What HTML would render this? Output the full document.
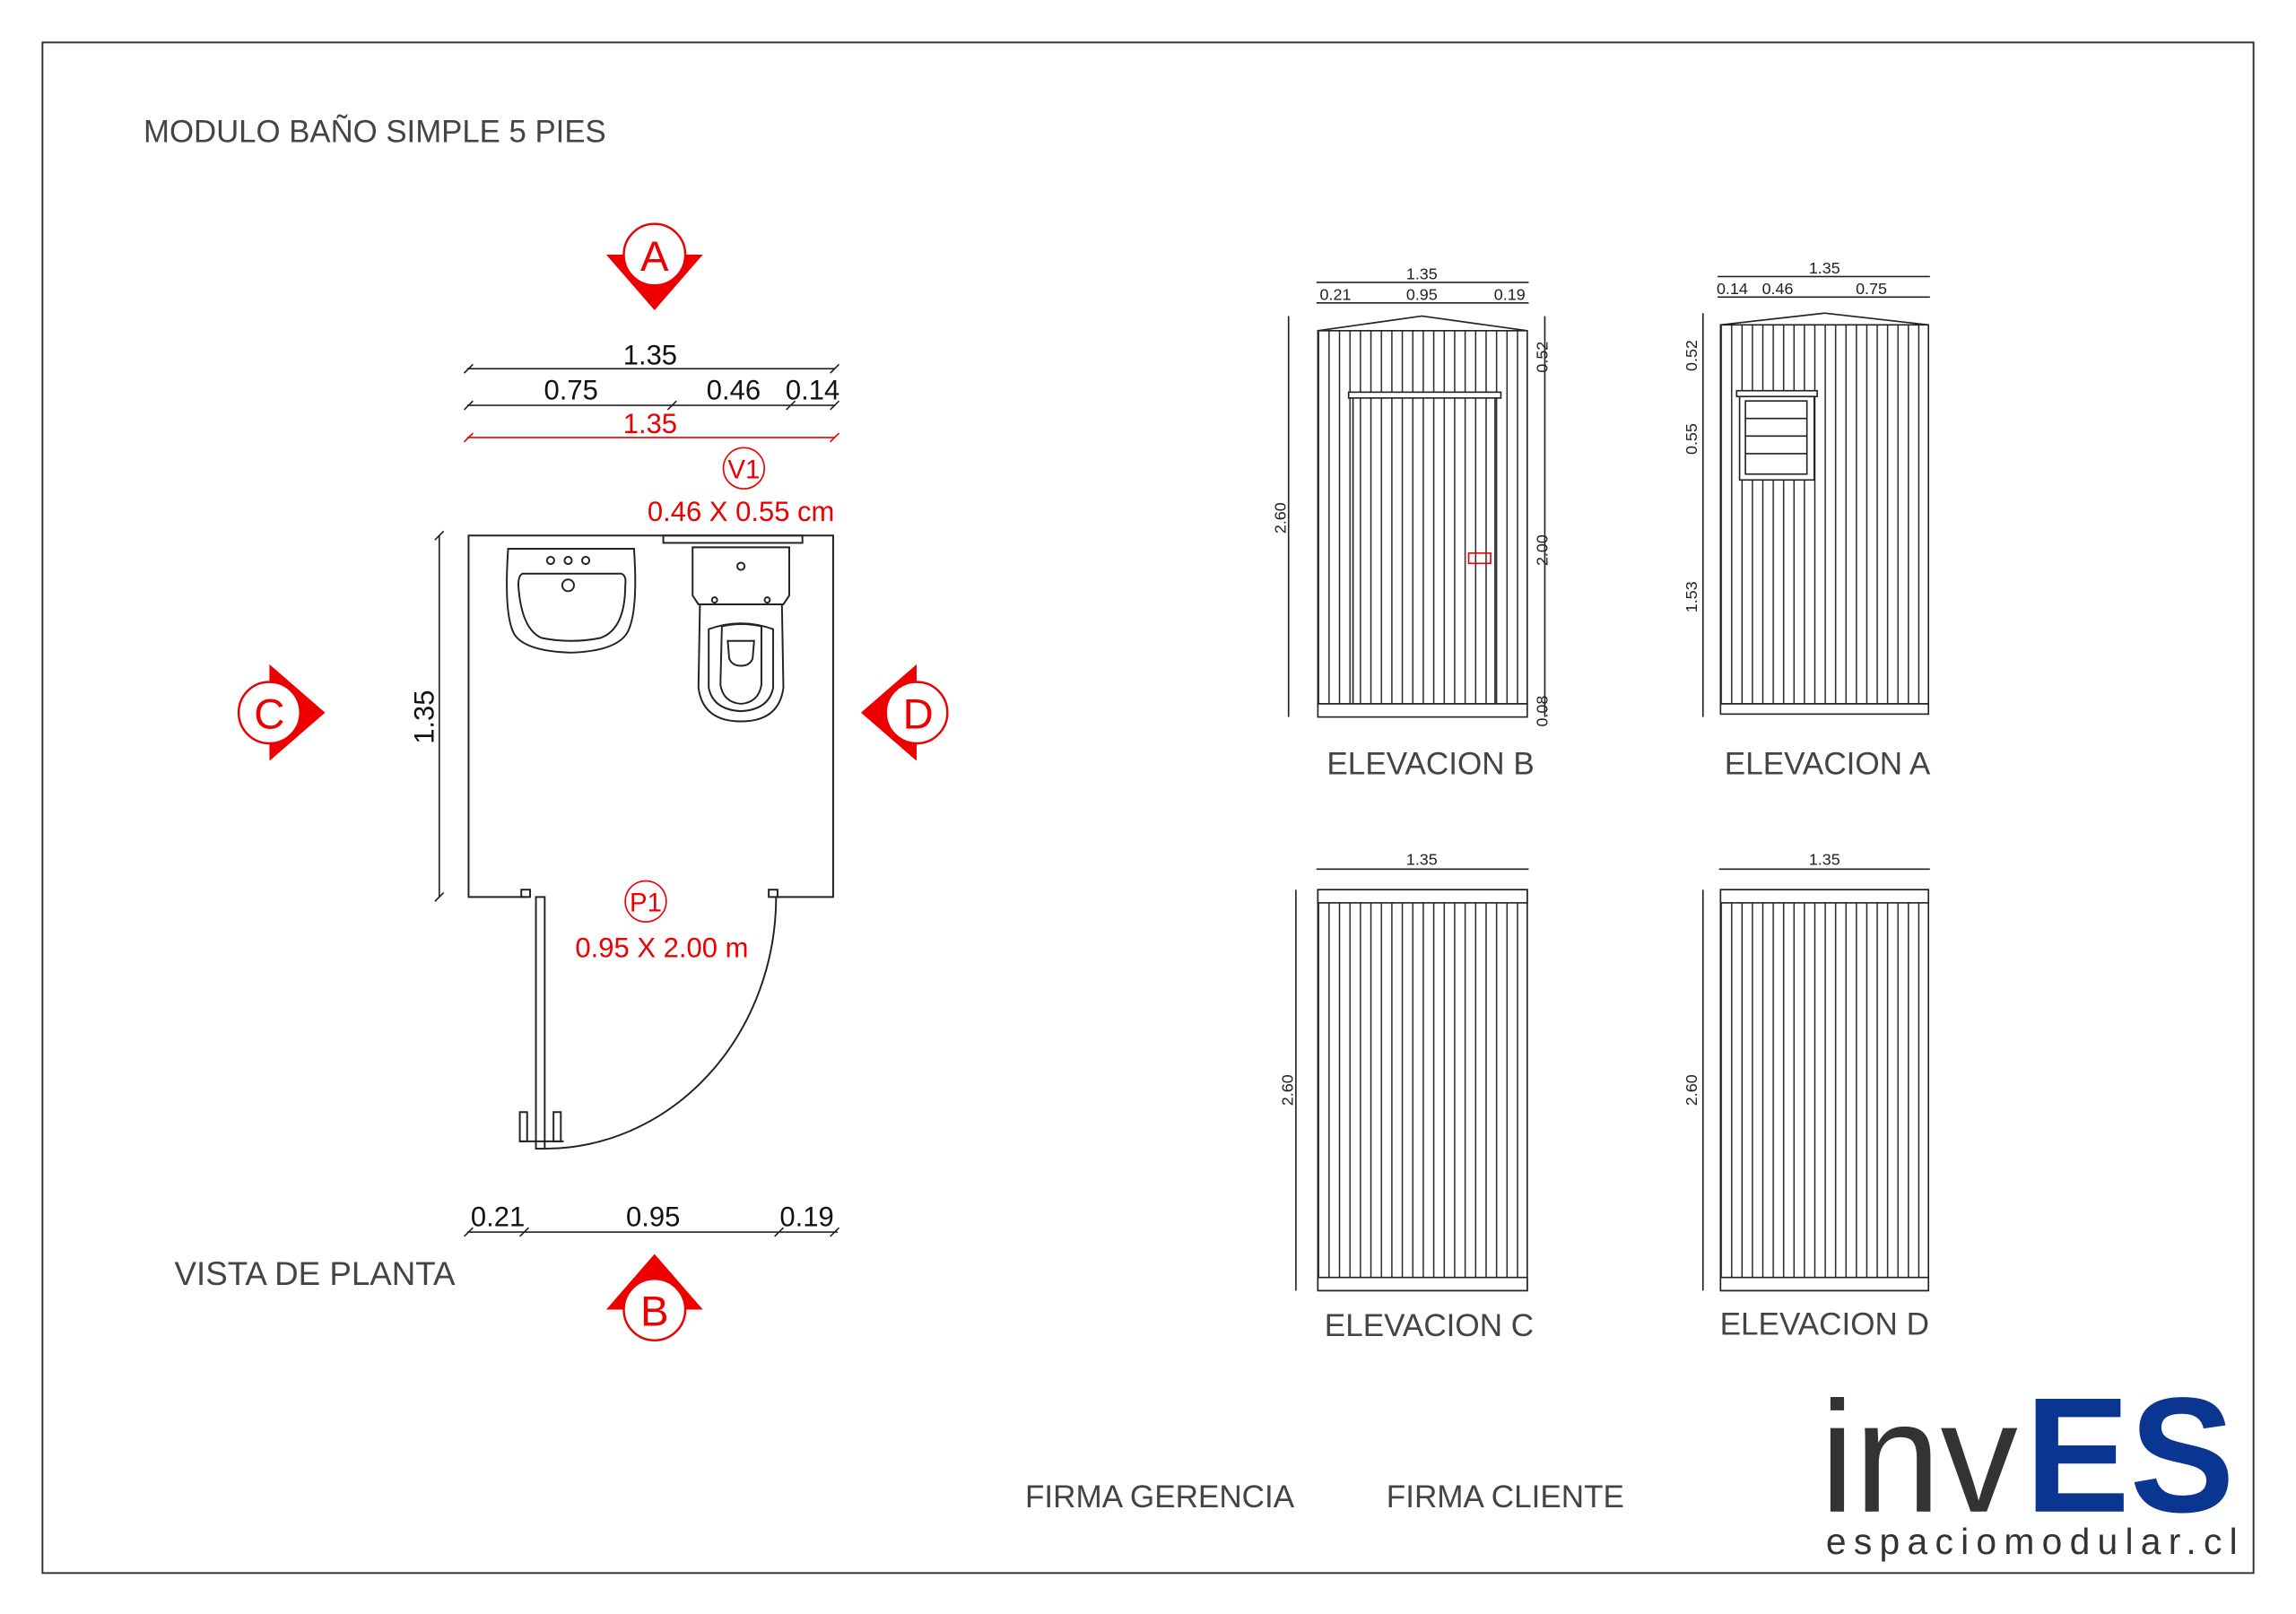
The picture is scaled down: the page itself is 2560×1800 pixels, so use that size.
<!DOCTYPE html>
<html><head><meta charset="utf-8"><style>html,body{margin:0;padding:0;background:#fff}svg{display:block}</style></head>
<body>
<svg width="2560" height="1800" viewBox="0 0 1568 1103" preserveAspectRatio="none" xmlns="http://www.w3.org/2000/svg" font-family="Liberation Sans, sans-serif">
<defs>
<pattern id="vl" patternUnits="userSpaceOnUse" width="7.15" height="10" x="900" y="0"><line x1="0.5" y1="0" x2="0.5" y2="10" stroke="#222" stroke-width="0.9"/></pattern>
<pattern id="vl2" patternUnits="userSpaceOnUse" width="7.1" height="10" x="1175" y="0"><line x1="0.5" y1="0" x2="0.5" y2="10" stroke="#222" stroke-width="0.9"/></pattern>
</defs>
<rect width="1568" height="1103" fill="#fff"/>
<rect x="29" y="29" width="1510" height="1046" fill="none" stroke="#333" stroke-width="1.2"/>
<text x="98" y="97" font-size="21.3" fill="#444">MODULO BAÑO SIMPLE 5 PIES</text>

<g stroke="#222" stroke-width="1" fill="none">
<line x1="319" y1="252" x2="570" y2="252"/>
<line x1="319" y1="277" x2="570" y2="277"/>
<path d="M317,255 L323,249 M567,255 L573,249 M317,280 L323,274 M456,280 L462,274 M537,280 L543,274 M567,280 L573,274"/>
<line x1="300" y1="366" x2="300" y2="613"/>
<path d="M297,369 L303,363 M297,616 L303,610"/>
<line x1="319" y1="842" x2="572" y2="842"/>
<path d="M317,845 L323,839 M355,845 L361,839 M529,845 L535,839 M567,845 L573,839"/>
</g>
<g stroke="#e00" fill="none" stroke-width="1"><line x1="319" y1="299" x2="570" y2="299"/><path d="M317,302 L323,296 M567,302 L573,296"/></g>
<g font-size="19" fill="#111" text-anchor="middle">
<text x="444" y="249">1.35</text><text x="390" y="273">0.75</text><text x="501" y="273">0.46</text><text x="555" y="273">0.14</text>
<text x="340" y="838">0.21</text><text x="446" y="838">0.95</text><text x="551" y="838">0.19</text>
<text transform="translate(296,490) rotate(-90)">1.35</text>
</g>
<text x="444" y="296" font-size="19" fill="#e00" text-anchor="middle">1.35</text>
<circle cx="508" cy="320" r="14" fill="none" stroke="#e00"/>
<text x="508" y="327" font-size="18" fill="#e00" text-anchor="middle">V1</text>
<text x="506" y="356" font-size="19" fill="#e00" text-anchor="middle">0.46 X 0.55 cm</text>
<circle cx="441" cy="616" r="14" fill="none" stroke="#e00"/>
<text x="441" y="623" font-size="18" fill="#e00" text-anchor="middle">P1</text>
<text x="452" y="654" font-size="19" fill="#e00" text-anchor="middle">0.95 X 2.00 m</text>

<g stroke="#222" stroke-width="1.2" fill="none">
<path d="M360,613 L320,613 L320,366 L569,366 L569,613 L530,613"/>
<rect x="453" y="366" width="95" height="5"/>
<rect x="356" y="608" width="6" height="5"/><rect x="525" y="608" width="6" height="5"/>
<rect x="366" y="613" width="6" height="172"/>
<path d="M530,613 A158,172 0 0 1 372,785"/>
<rect x="355" y="760" width="5" height="20"/><rect x="378" y="760" width="5" height="20"/><line x1="355" y1="780" x2="385" y2="780"/>
<path d="M347,375 L433,375 Q436,420 428,433 Q420,445 390,446 Q358,445 351,433 Q344,420 347,375 Z"/>
<path d="M357,392 L424,392 Q428,393 427,400 Q427,430 410,436 Q390,440 370,436 Q356,430 354,400 Q354,393 357,392Z"/>
<circle cx="376" cy="383" r="2.5"/><circle cx="388" cy="383" r="2.5"/><circle cx="400" cy="383" r="2.5"/><circle cx="388" cy="400" r="4"/>
<path d="M473,374 L539,374 L539,407 L535,413 L477,413 L473,407 Z"/>
<circle cx="506" cy="387" r="2.5"/>
<path d="M478,413 L477,470 Q480,493 506,493 Q532,493 535,470 L534,413"/>
<path d="M484,430 Q506,422 528,430 L528,470 Q525,485 506,486 Q487,485 484,470 Z"/>
<path d="M493,428 Q506,425 520,428 L520,468 Q518,480 506,481 Q494,480 492,468 Z"/>
<path d="M497,438 L515,438 L514,450 Q512,455 506,455 Q500,455 498,450 Z"/>
<circle cx="488" cy="410" r="1.8"/><circle cx="524" cy="410" r="1.8"/>
</g>

<g fill="#e00">
<polygon points="414,174 480,174 447,212"/><polygon points="414,895 480,895 447,857"/>
<polygon points="184,454 184,520 222,487"/><polygon points="626,454 626,520 588,487"/>
</g>
<g fill="#fff" stroke="#e00" stroke-width="1.5">
<circle cx="447" cy="174" r="21"/><circle cx="447" cy="895" r="21"/><circle cx="184" cy="487" r="21"/><circle cx="626" cy="487" r="21"/>
</g>
<g font-size="29" fill="#e00" text-anchor="middle">
<text x="447" y="185">A</text><text x="447" y="906">B</text><text x="184" y="498">C</text><text x="627" y="498">D</text>
</g>

<g stroke="#222" stroke-width="1" fill="none">
<rect x="900" y="226" width="143" height="255" fill="url(#vl)"/>
<rect x="900" y="481" width="143" height="9" fill="#fff"/>
<path d="M900,226 L971,216 L1043,226"/>
<rect x="921" y="268" width="104" height="4" fill="#fff"/>
<line x1="924" y1="272" x2="924" y2="481"/><line x1="1021" y1="272" x2="1021" y2="481"/>
<line x1="899" y1="193" x2="1044" y2="193"/><line x1="899" y1="207" x2="1044" y2="207"/>
<line x1="880" y1="216" x2="880" y2="490"/><line x1="1055" y1="216" x2="1055" y2="490"/>
<rect x="1175" y="222" width="142" height="259" fill="url(#vl2)"/>
<rect x="1175" y="481" width="142" height="7" fill="#fff"/>
<path d="M1175,222 L1246,214 L1317,222"/>
<rect x="1186" y="267" width="55" height="4" fill="#fff"/>
<rect x="1188" y="271" width="51" height="57" fill="#fff"/>
<rect x="1192" y="274" width="42" height="50"/>
<path d="M1192,286 L1234,286 M1192,298 L1234,298 M1192,310 L1234,310"/>
<line x1="1173" y1="189" x2="1318" y2="189"/><line x1="1173" y1="203" x2="1318" y2="203"/>
<line x1="1163" y1="214" x2="1163" y2="490"/>
<rect x="900" y="608" width="143" height="274" fill="url(#vl)"/>
<rect x="900" y="608" width="143" height="9" fill="#fff"/><rect x="900" y="873" width="143" height="9" fill="#fff"/>
<line x1="899" y1="594" x2="1044" y2="594"/><line x1="885" y1="608" x2="885" y2="882"/>
<rect x="1175" y="608" width="142" height="274" fill="url(#vl2)"/>
<rect x="1175" y="608" width="142" height="9" fill="#fff"/><rect x="1175" y="873" width="142" height="9" fill="#fff"/>
<line x1="1174" y1="594" x2="1318" y2="594"/><line x1="1163" y1="608" x2="1163" y2="882"/>
</g>
<rect x="1003" y="378" width="15" height="7" fill="none" stroke="#e00" stroke-width="1"/>
<g font-size="11" fill="#222" text-anchor="middle">
<text x="971" y="191">1.35</text><text x="912" y="205">0.21</text><text x="971" y="205">0.95</text><text x="1031" y="205">0.19</text>
<text transform="translate(878,354) rotate(-90)">2.60</text>
<text transform="translate(1057,244) rotate(-90)">0.52</text>
<text transform="translate(1057,376) rotate(-90)">2.00</text>
<text transform="translate(1057,486) rotate(-90)">0.08</text>
<text x="1246" y="187">1.35</text><text x="1183" y="201">0.14</text><text x="1214" y="201">0.46</text><text x="1278" y="201">0.75</text>
<text transform="translate(1159,243) rotate(-90)">0.52</text>
<text transform="translate(1159,300) rotate(-90)">0.55</text>
<text transform="translate(1159,408) rotate(-90)">1.53</text>
<text x="971" y="591">1.35</text><text x="1246" y="591">1.35</text>
<text transform="translate(883,745) rotate(-90)">2.60</text>
<text transform="translate(1159,745) rotate(-90)">2.60</text>
</g>
<g font-size="21.5" fill="#444" text-anchor="middle">
<text x="977" y="529">ELEVACION B</text><text x="1248" y="529">ELEVACION A</text>
<text x="976" y="913">ELEVACION C</text><text x="1246" y="912">ELEVACION D</text>
<text x="215" y="878" font-size="22.5">VISTA DE PLANTA</text>
<text x="792" y="1030">FIRMA GERENCIA</text><text x="1028" y="1030">FIRMA CLIENTE</text>
</g>
<text x="1243" y="1033" font-size="108" fill="#333" textLength="135" lengthAdjust="spacingAndGlyphs">inv</text>
<text x="1383" y="1033" font-size="112" font-weight="bold" fill="#0a3590" textLength="143" lengthAdjust="spacingAndGlyphs">ES</text>
<text x="1247" y="1062" font-size="25" fill="#333" textLength="281" lengthAdjust="spacing">espaciomodular.cl</text>
</svg>
</body></html>
